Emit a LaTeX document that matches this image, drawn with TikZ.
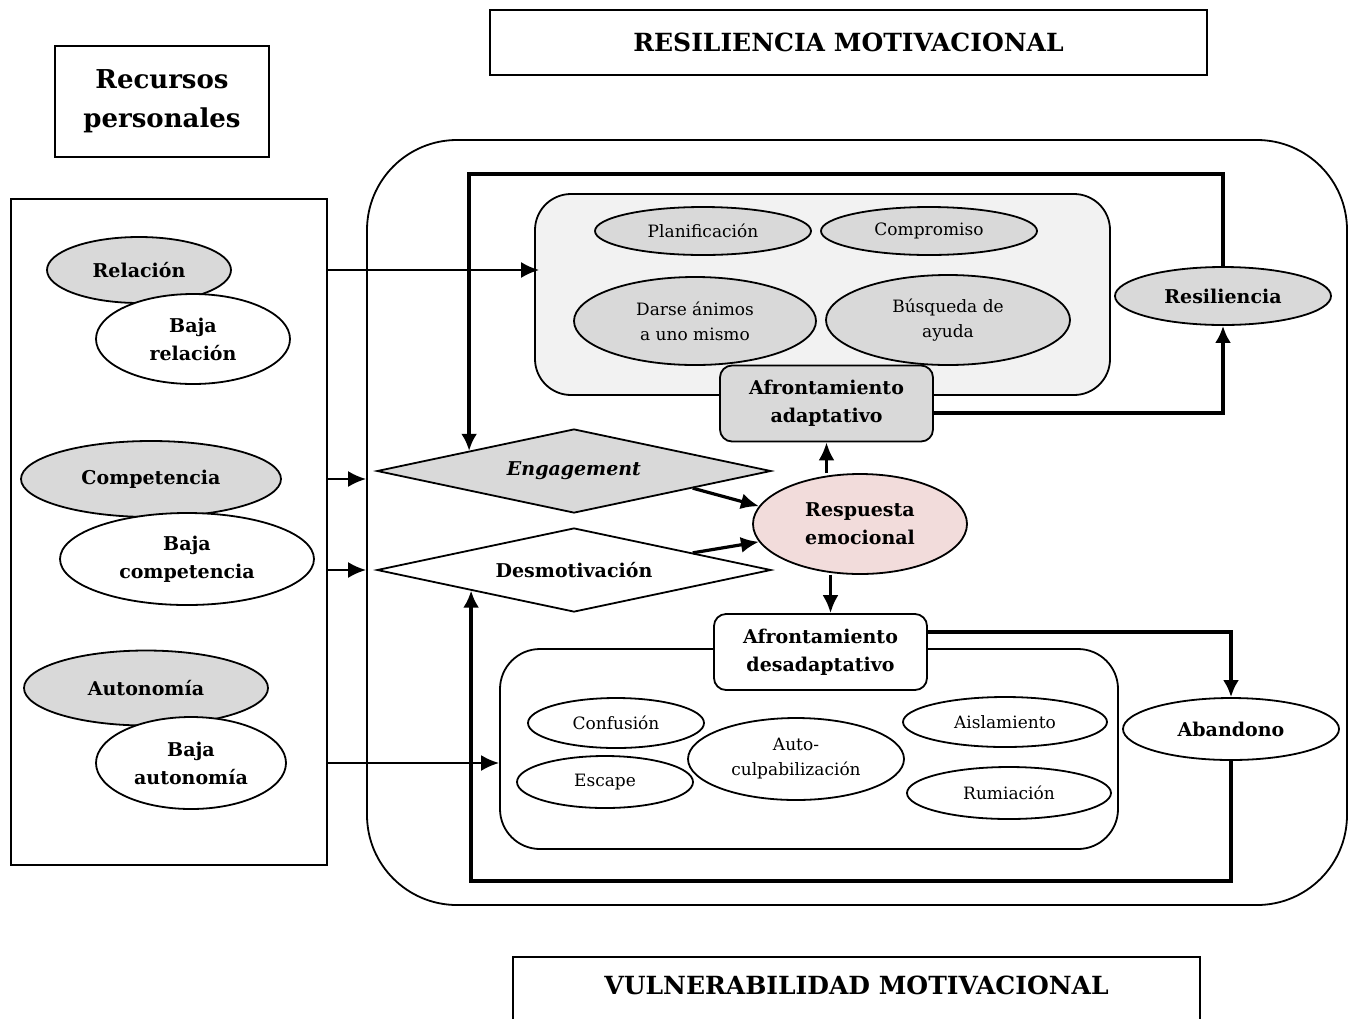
\documentclass[tikz,border=0pt]{standalone}
\usepackage{fontspec}
\setmainfont{DejaVu Serif}
\usetikzlibrary{shapes.geometric, arrows.meta, positioning, calc}
\definecolor{boxgray}{HTML}{D9D9D9}
\definecolor{panelgray}{HTML}{F2F2F2}
\definecolor{emopink}{HTML}{F2DCDB}

\begin{document}
\begin{tikzpicture}[
    x=0.5pt, y=-0.5pt,
    bd/.style={draw, line width=0.9pt},
    hdr/.style={bd, fill=white, inner sep=0pt, align=center, font=\fontsize{12.5}{19.5}\selectfont\bfseries},
    rsc/.style={bd, ellipse, inner sep=0pt, align=center, font=\fontsize{9.5}{14}\selectfont\bfseries},
    strat/.style={bd, ellipse, inner sep=0pt, align=center, font=\fontsize{8.5}{12.5}\selectfont},
    cope/.style={bd, rounded corners=6pt, minimum width=106.5pt, minimum height=38pt, inner sep=0pt, align=center, font=\fontsize{9.5}{14}\selectfont\bfseries},
    dmd/.style={bd, diamond, aspect=4.8, minimum width=197pt, minimum height=42pt, inner sep=0pt, font=\fontsize{9.5}{14}\selectfont\bfseries},
    panel/.style={bd, rounded corners=18pt},
    arr/.style={-{Latex[length=9pt,width=8pt]}, line width=1.2pt},
    emoarr/.style={-{Latex[length=9pt,width=8pt]}, line width=1.6pt},
    fb/.style={-{Latex[length=8.5pt,width=8pt]}, line width=2pt},
]
    \useasboundingbox (0,0) rectangle (1354,1018);

    % Headers
    \node[hdr, minimum width=358.5pt, minimum height=32.5pt] (tres) at (848.5,42.5) {RESILIENCIA MOTIVACIONAL};
    \node[hdr, minimum width=107pt, minimum height=55.5pt, font=\fontsize{13}{19.5}\selectfont\bfseries] (trec) at (162,101.5) {Recursos\\personales};
    \node[hdr, minimum width=343.5pt, anchor=north, inner ysep=9.5pt, text height=9.5pt, text depth=15pt] (tvul) at (856.5,956) {VULNERABILIDAD MOTIVACIONAL};

    % Personal resources (left)
    \node[bd, minimum width=158pt, minimum height=333pt] (lbox) at (169,532) {};
    \node[rsc, fill=boxgray, minimum width=92pt, minimum height=33pt] (rel) at (139,270) {Relación};
    \node[rsc, fill=white, minimum width=97pt, minimum height=45pt] (brel) at (193,339) {Baja\\relación};
    \node[rsc, fill=boxgray, minimum width=130pt, minimum height=38pt] (comp) at (151,479) {Competencia};
    \node[rsc, fill=white, minimum width=127pt, minimum height=46pt] (bcomp) at (187,559) {Baja\\competencia};
    \node[rsc, fill=boxgray, minimum width=122pt, minimum height=37.5pt] (aut) at (146,688) {Autonomía};
    \node[rsc, fill=white, minimum width=95pt, minimum height=46pt] (baut) at (191,763) {Baja\\autonomía};

    % Main frame and panels
    \node[bd, rounded corners=45pt, minimum width=490pt, minimum height=382.5pt] (frame) at (857,522.5) {};
    \node[panel, fill=panelgray, minimum width=287.5pt, minimum height=100.5pt] (uppan) at (822.5,294.5) {};
    \node[panel, fill=white, minimum width=309pt, minimum height=100pt, rounded corners=20pt] (lowpan) at (809,749) {};

    % Adaptive coping
    \node[strat, fill=boxgray, minimum width=108pt, minimum height=24pt] (plan) at (703,231) {Planificación};
    \node[strat, fill=boxgray, minimum width=108pt, minimum height=24pt] (compr) at (929,231) {Compromiso};
    \node[strat, fill=boxgray, minimum width=121pt, minimum height=44pt] (animo) at (695,321) {Darse ánimos\\a uno mismo};
    \node[strat, fill=boxgray, minimum width=122pt, minimum height=45pt] (ayuda) at (948,320) {Búsqueda de\\ayuda};
    \node[cope, fill=boxgray] (adapt) at (826.5,403.5) {Afrontamiento\\adaptativo};
    \node[rsc, fill=boxgray, minimum width=108pt, minimum height=29pt] (resil) at (1223,296) {Resiliencia};

    % Center
    \node[dmd, fill=boxgray] (engage) at (574,471) {\textit{Engagement}};
    \node[dmd, fill=white] (desmot) at (574,570) {Desmotivación};
    \node[rsc, fill=emopink, minimum width=107pt, minimum height=50pt] (resp) at (860,524) {Respuesta\\emocional};

    % Maladaptive coping
    \node[cope, fill=white] (desad) at (820.5,652) {Afrontamiento\\desadaptativo};
    \node[strat, fill=white, minimum width=88pt, minimum height=25pt] (conf) at (616,723) {Confusión};
    \node[strat, fill=white, minimum width=88pt, minimum height=26pt] (esc) at (605,782) {Escape};
    \node[strat, fill=white, minimum width=108pt, minimum height=41pt] (culpa) at (796,759) {Auto-\\culpabilización};
    \node[strat, fill=white, minimum width=102pt, minimum height=25pt] (aisl) at (1005,722) {Aislamiento};
    \node[strat, fill=white, minimum width=102pt, minimum height=26pt] (rumi) at (1009,793) {Rumiación};
    \node[rsc, fill=white, minimum width=108pt, minimum height=31pt] (aband) at (1231,729) {Abandono};

    % Arrows
    \draw[arr] (lbox.east |- rel) -- ([xshift=2.5pt]uppan.west |- rel);
    \draw[arr] (lbox.east |- comp) -- (frame.west |- comp);
    \draw[arr] (lbox.east |- desmot) -- (frame.west |- desmot);
    \draw[arr] (lbox.east |- baut) -- (lowpan.west |- baut);
    \draw[emoarr] ($(engage.east)!0.4!(engage.south)$) -- (resp.170);
    \draw[emoarr] ($(desmot.east)!0.4!(desmot.north)$) -- (resp.190);
    \draw[emoarr] (adapt.south |- resp.north) -- (adapt.south);
    \draw[emoarr] ([xshift=5pt]desad.north |- resp.south) -- ([xshift=5pt]desad.north);

    % Feedback loops
    \coordinate (engIn) at ($(engage.west)!0.47!(engage.north)$);
    \coordinate (desIn) at ($(desmot.west)!0.48!(desmot.south)$);
    \draw[fb] (resil.north) -- ++(0,-92) -| (engIn);
    \draw[fb] ([yshift=-4.5pt]adapt.east) -| (resil.south);
    \draw[fb] ([yshift=10pt]desad.east) -| (aband.north);
    \draw[fb] (aband.south) -- ++(0,120) -| (desIn);
\end{tikzpicture}
\end{document}
